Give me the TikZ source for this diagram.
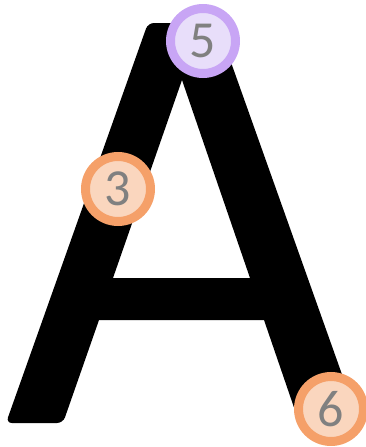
\documentclass[tikz,border=0pt]{standalone}
\usepackage{fontspec}
\setmainfont{Carlito}
\usepackage{tikz}
\usetikzlibrary{positioning,shapes}

\definecolor{ringorange}{HTML}{F5A069}
\definecolor{fillorange}{HTML}{FAD6BE}
\definecolor{ringpurple}{HTML}{C8A5F5}
\definecolor{fillpurple}{HTML}{E8DEFA}
\definecolor{digitgray}{HTML}{808080}

\begin{document}
\begin{tikzpicture}[x=1pt, y=-1pt,
    mark3/.style={circle, inner sep=0pt, minimum size=65pt, line width=9pt,
        font=\fontsize{52}{52}\selectfont, text=digitgray},
    orangemark/.style={mark3, draw=ringorange, fill=fillorange},
    purplemark/.style={mark3, draw=ringpurple, fill=fillpurple}]

\useasboundingbox (0,0) rectangle (366,447);

% --- The letter A ---
\fill[black, even odd rule]
    [rounded corners=6pt] (148,23) -- (217,23) -- (360,425) -- (300,425)
    [sharp corners] -- (264,320) -- (99,320)
    [rounded corners=6pt] -- (63,423) -- (6,423) -- cycle
    [sharp corners] (182,80) -- (250,278) -- (113,278) -- cycle;

% --- Stroke markers ---
\node[purplemark] (n5) at (203,41) {5};
\node[orangemark] (n3) at (118,189) {3};
\node[orangemark] (n6) at (331,409) {6};

\end{tikzpicture}
\end{document}
